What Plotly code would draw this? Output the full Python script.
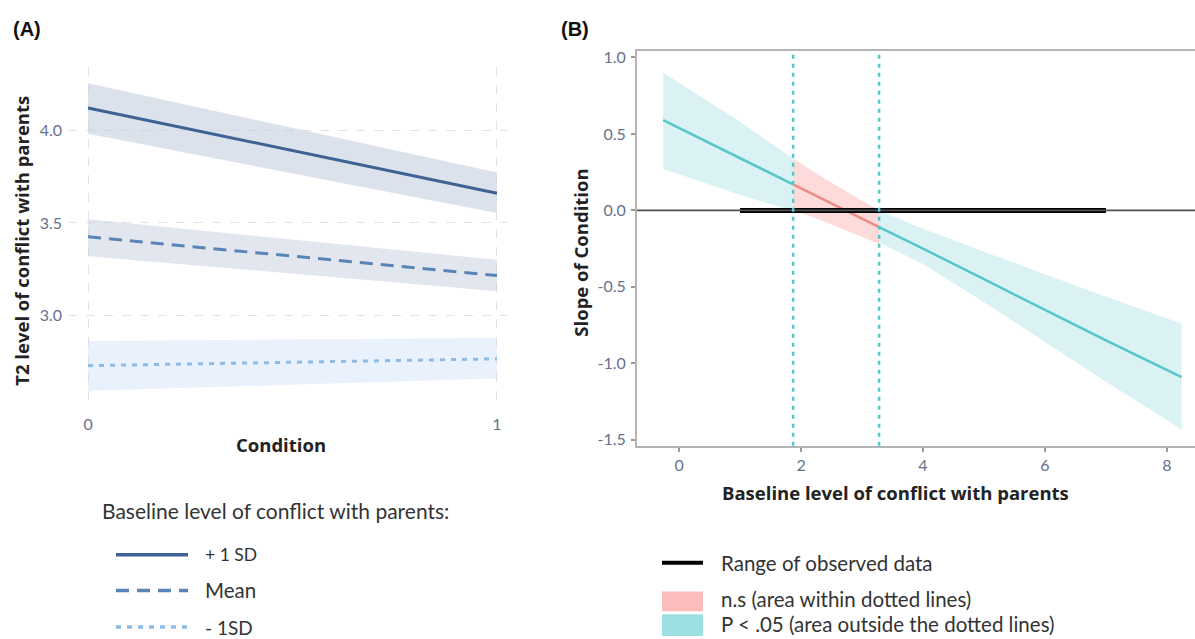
import plotly.graph_objects as go

# ---------------- Panel A data ----------------
condition = [0, 1]
plus1_fit = [4.124, 3.661]
plus1_lo = [3.984, 3.554]
plus1_hi = [4.258, 3.774]
mean_fit = [3.425, 3.215]
mean_lo = [3.32, 3.13]
mean_hi = [3.52, 3.30]
minus1_fit = [2.726, 2.763]
minus1_lo = [2.59, 2.656]
minus1_hi = [2.86, 2.876]
a_yticks = [3.0, 3.5, 4.0]
a_xticks = [0, 1]

# ---------------- Panel B data ----------------
sig1_x = [-0.26, 0.5, 1.0, 1.5, 1.87]
sig1_fit = [0.59, 0.44, 0.34, 0.24, 0.17]
sig1_hi = [0.90, 0.71, 0.58, 0.44, 0.34]
sig1_lo = [0.27, 0.17, 0.10, 0.04, 0.00]
ns_x = [1.87, 2.3, 2.8, 3.28]
ns_fit = [0.17, 0.085, -0.015, -0.11]
ns_hi = [0.34, 0.23, 0.11, 0.00]
ns_lo = [0.00, -0.06, -0.14, -0.22]
sig2_x = [3.28, 4, 5, 6, 7, 8.24]
sig2_fit = [-0.11, -0.25, -0.45, -0.65, -0.85, -1.09]
sig2_hi = [0.00, -0.12, -0.27, -0.42, -0.565, -0.74]
sig2_lo = [-0.21, -0.35, -0.60, -0.86, -1.12, -1.43]
jn_points = [1.87, 3.28]
observed_range = [1.0, 7.0]
b_xticks = [0, 2, 4, 6, 8]
b_yticks = [-1.5, -1.0, -0.5, 0.0, 0.5, 1.0]

W, H = 1195, 639
TICK_COL = "#66718c"
TEAL = "#55c6ca"
TEAL_BAND = "rgba(110,205,210,0.25)"
RED = "#f08a84"
RED_BAND = "rgba(250,170,170,0.42)"

fig = go.Figure()


def band(x, lo, hi, color, xa, ya):
    fig.add_trace(go.Scatter(x=list(x) + list(x)[::-1], y=list(hi) + list(lo)[::-1],
                             fill="toself", fillcolor=color, line=dict(width=0),
                             mode="lines", hoverinfo="skip", showlegend=False,
                             xaxis=xa, yaxis=ya))


# Panel A
band(condition, plus1_lo, plus1_hi, "rgba(190,202,220,0.55)", "x", "y")
band(condition, mean_lo, mean_hi, "rgba(190,202,220,0.45)", "x", "y")
band(condition, minus1_lo, minus1_hi, "rgba(205,225,248,0.45)", "x", "y")
fig.add_trace(go.Scatter(x=condition, y=plus1_fit, mode="lines", name="+ 1 SD",
                         line=dict(color="#3e6293", width=3), showlegend=False))
fig.add_trace(go.Scatter(x=condition, y=mean_fit, mode="lines", name="Mean",
                         line=dict(color="#5b84b6", width=3, dash="13px,8px"), showlegend=False))
fig.add_trace(go.Scatter(x=condition, y=minus1_fit, mode="lines", name="- 1SD",
                         line=dict(color="#8cbbe6", width=3, dash="5px,6px"), showlegend=False))

# Panel B
band(sig1_x, sig1_lo, sig1_hi, TEAL_BAND, "x2", "y2")
band(ns_x, ns_lo, ns_hi, RED_BAND, "x2", "y2")
band(sig2_x, sig2_lo, sig2_hi, TEAL_BAND, "x2", "y2")
fig.add_trace(go.Scatter(x=sig1_x, y=sig1_fit, mode="lines", line=dict(color=TEAL, width=2.5),
                         showlegend=False, xaxis="x2", yaxis="y2"))
fig.add_trace(go.Scatter(x=ns_x, y=ns_fit, mode="lines", line=dict(color=RED, width=2.5),
                         showlegend=False, xaxis="x2", yaxis="y2"))
fig.add_trace(go.Scatter(x=sig2_x, y=sig2_fit, mode="lines", line=dict(color=TEAL, width=2.5),
                         showlegend=False, xaxis="x2", yaxis="y2"))
# zero reference line (full width)
fig.add_shape(type="line", xref="x2 domain", yref="y2", x0=0, x1=1, y0=0, y1=0,
              line=dict(color="#505050", width=1.8))
# range of observed data
fig.add_trace(go.Scatter(x=observed_range, y=[0, 0], mode="lines",
                         line=dict(color="#000000", width=5), showlegend=False,
                         xaxis="x2", yaxis="y2"))
# Johnson-Neyman lines
for xv in jn_points:
    fig.add_shape(type="line", xref="x2", yref="y2 domain", x0=xv, x1=xv, y0=0, y1=1,
                  line=dict(color=TEAL, width=2.5, dash="4px,5px"))

tickfont = dict(family="Lato", size=16, color=TICK_COL)
titlefont = dict(family="Open Sans", size=18.5, color="#222222")

fig.update_layout(
    width=W, height=H, margin=dict(l=0, r=0, t=0, b=0),
    paper_bgcolor="white", plot_bgcolor="white", showlegend=False,
    xaxis=dict(domain=[68 / W, 508 / W], range=[-0.049, 1.027], tickvals=a_xticks,
               ticktext=[str(v) for v in a_xticks], tickfont=tickfont,
               showgrid=True, gridcolor="#e2e2e2", griddash="dash", gridwidth=1,
               zeroline=False, showline=False, ticks="", ticklabelstandoff=4),
    yaxis=dict(domain=[1 - 410 / H, 1 - 65 / H], range=[2.49, 4.344], tickvals=a_yticks,
               ticktext=["3.0", "3.5", "4.0"], tickfont=tickfont,
               showgrid=True, gridcolor="#e2e2e2", griddash="dash", gridwidth=1,
               zeroline=False, showline=False, ticks="", ticklabelstandoff=5),
    xaxis2=dict(domain=[637 / W, 1.0], range=[-0.69, 8.46], tickvals=b_xticks,
                ticktext=[str(v) for v in b_xticks], tickfont=tickfont, anchor="y2",
                showgrid=False, zeroline=False, showline=True, linecolor="#b5b5b5", linewidth=2,
                mirror=True, ticks="outside", ticklen=4, tickcolor="#999999", tickwidth=2,
                ticklabelstandoff=0),
    yaxis2=dict(domain=[1 - 447 / H, 1 - 48 / H], range=[-1.539, 1.045], tickvals=b_yticks,
                ticktext=["-1.5", "-1.0", "-0.5", "0.0", "0.5", "1.0"], tickfont=tickfont,
                anchor="x2", showgrid=False, zeroline=False, showline=True, linecolor="#b5b5b5",
                linewidth=2, ticks="outside", ticklen=4, tickcolor="#999999", tickwidth=2,
                ticklabelstandoff=2),
)

annots = []
annots.append(dict(text="<b>(A)</b>", x=11 / W, y=1 - 26 / H, xanchor="left", yanchor="middle",
                   font=dict(family="Liberation Sans", size=20, color="#111")))
annots.append(dict(text="<b>(B)</b>", x=559 / W, y=1 - 26 / H, xanchor="left", yanchor="middle",
                   font=dict(family="Liberation Sans", size=20, color="#111")))
# axis titles
annots.append(dict(text="<b>Condition</b>", x=281 / W, y=1 - 446 / H,
                   xanchor="center", yanchor="middle", font=titlefont))
annots.append(dict(text="<b>T2 level of conflict with parents</b>", x=22 / W, y=1 - 240 / H,
                   xanchor="center", yanchor="middle", textangle=-90, font=titlefont))
annots.append(dict(text="<b>Baseline level of conflict with parents</b>", x=895 / W, y=1 - 494 / H,
                   xanchor="center", yanchor="middle", font=titlefont))
annots.append(dict(text="<b>Slope of Condition</b>", x=581 / W, y=1 - 252 / H,
                   xanchor="center", yanchor="middle", textangle=-90, font=titlefont))

# Legend A
annots.append(dict(text="Baseline level of conflict with parents:", x=100 / W, y=1 - 512 / H,
                   xanchor="left", yanchor="middle",
                   font=dict(family="Lato", size=21, color="#333333")))
leg_a = [("+ 1 SD", 557, "#3e6293", "solid", 17.5), ("Mean", 593, "#5b84b6", "13px,8px", 20.5),
         ("- 1SD", 630, "#8cbbe6", "5px,6px", 19)]
for label, yy, col, dash, fs in leg_a:
    fig.add_shape(type="line", xref="paper", yref="paper", x0=116 / W, x1=188 / W,
                  y0=1 - yy / H, y1=1 - yy / H, line=dict(color=col, width=3.5, dash=dash))
    annots.append(dict(text=label, x=203 / W, y=1 - yy / H, xanchor="left", yanchor="middle",
                       font=dict(family="Lato", size=fs, color="#333333")))

# Legend B
legfont = dict(family="Lato", size=20.5, color="#333333")
fig.add_shape(type="line", xref="paper", yref="paper", x0=662 / W, x1=703 / W,
              y0=1 - 565 / H, y1=1 - 565 / H, line=dict(color="#000", width=4))
fig.add_shape(type="rect", xref="paper", yref="paper", x0=662 / W, x1=703 / W,
              y0=1 - 614 / H, y1=1 - 594 / H, fillcolor="#fbbcbc", line=dict(width=0))
fig.add_shape(type="rect", xref="paper", yref="paper", x0=662 / W, x1=703 / W,
              y0=0, y1=1 - 617 / H, fillcolor="#9ee0e2", line=dict(width=0))
for label, yy in [("Range of observed data", 565), ("n.s (area within dotted lines)", 602),
                  ("P < .05 (area outside the dotted lines)", 627)]:
    annots.append(dict(text=label, x=719 / W, y=1 - yy / H, xanchor="left", yanchor="middle",
                       font=legfont))

for a in annots:
    a.update(xref="paper", yref="paper", showarrow=False)
fig.update_layout(annotations=annots)

fig.write_html("out.html", config={"displayModeBar": False},
               post_script="document.body.style.margin='0px';document.body.style.overflow='hidden';")
